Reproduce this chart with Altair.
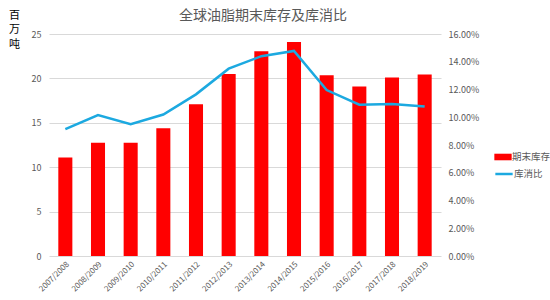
import altair as alt
import pandas as pd

years = ["2007/2008", "2008/2009", "2009/2010", "2010/2011", "2011/2012", "2012/2013",
         "2013/2014", "2014/2015", "2015/2016", "2016/2017", "2017/2018", "2018/2019"]
stocks = [11.1, 12.75, 12.75, 14.4, 17.1, 20.5, 23.05, 24.1, 20.35, 19.1, 20.1, 20.45]
ratio = [0.0914, 0.1016, 0.0950, 0.1020, 0.1165, 0.1350, 0.1440, 0.1478, 0.1196, 0.1090, 0.1095, 0.1077]

df = pd.DataFrame({"year": years, "stock": stocks, "ratio": ratio,
                   "s1": ["期末库存"] * len(years), "s2": ["库消比"] * len(years)})

FONT = "Noto Sans CJK SC"
GRAY = "#595959"

x = alt.X("year:N", sort=years, title=None,
          scale=alt.Scale(paddingInner=0.57, paddingOuter=0.285),
          axis=alt.Axis(labelAngle=-45, labelFontSize=8, labelColor=GRAY, ticks=False,
                        domain=False, labelPadding=4))

bars = alt.Chart(df).mark_bar(color="#FF0000").encode(
    x=x,
    y=alt.Y("stock:Q", scale=alt.Scale(domain=[0, 25]),
            axis=alt.Axis(values=[0, 5, 10, 15, 20, 25], title=["百", "万", "吨"],
                          titleAngle=0, titleX=-35, titleY=-25, titleBaseline="top",
                          titleAlign="center", titleLineHeight=14.5, titleFontSize=11,
                          titleFontWeight="normal", titleColor="#000000",
                          labelFontSize=9, labelColor=GRAY, ticks=False, domain=False,
                          labelPadding=8, gridColor="#D9D9D9")),
    fill=alt.Fill("s1:N", scale=alt.Scale(domain=["期末库存"], range=["#FF0000"]),
                  legend=alt.Legend(title=None, orient="none", legendX=445, legendY=114,
                                    symbolType="M-1,-0.38H1V0.38H-1Z", symbolSize=300,
                                    labelFontSize=9.5, labelColor=GRAY, labelOffset=0,
                                    symbolStrokeWidth=0)),
)

line = alt.Chart(df).mark_line(color="#1CA9E0", strokeWidth=2.5).encode(
    x=x,
    y=alt.Y("ratio:Q", scale=alt.Scale(domain=[0, 0.16]),
            axis=alt.Axis(values=[0, 0.02, 0.04, 0.06, 0.08, 0.10, 0.12, 0.14, 0.16],
                          format=".2%", title=None, orient="right", grid=False,
                          labelFontSize=9, labelColor=GRAY, ticks=False, domain=False,
                          labelPadding=7)),
    stroke=alt.Stroke("s2:N", scale=alt.Scale(domain=["库消比"], range=["#1CA9E0"]),
                      legend=alt.Legend(title=None, orient="none", legendX=445, legendY=130,
                                        symbolType="stroke", symbolSize=300,
                                        symbolStrokeWidth=2.5,
                                        labelFontSize=9.5, labelColor=GRAY, labelOffset=0)),
)

chart = alt.layer(bars, line).resolve_scale(y="independent", fill="independent",
                                            stroke="independent").properties(
    width=392, height=222,
    autosize=alt.AutoSizeParams(type="none"),
    padding={"left": 49, "top": 34, "right": 109, "bottom": 44},
    title=alt.TitleParams("全球油脂期末库存及库消比", fontSize=14, fontWeight="normal",
                          color=GRAY, anchor="middle", dx=18, dy=14, offset=0),
).configure(font=FONT).configure_view(stroke=None)

chart.save("out.html", embed_options={"renderer": "svg", "actions": False})
